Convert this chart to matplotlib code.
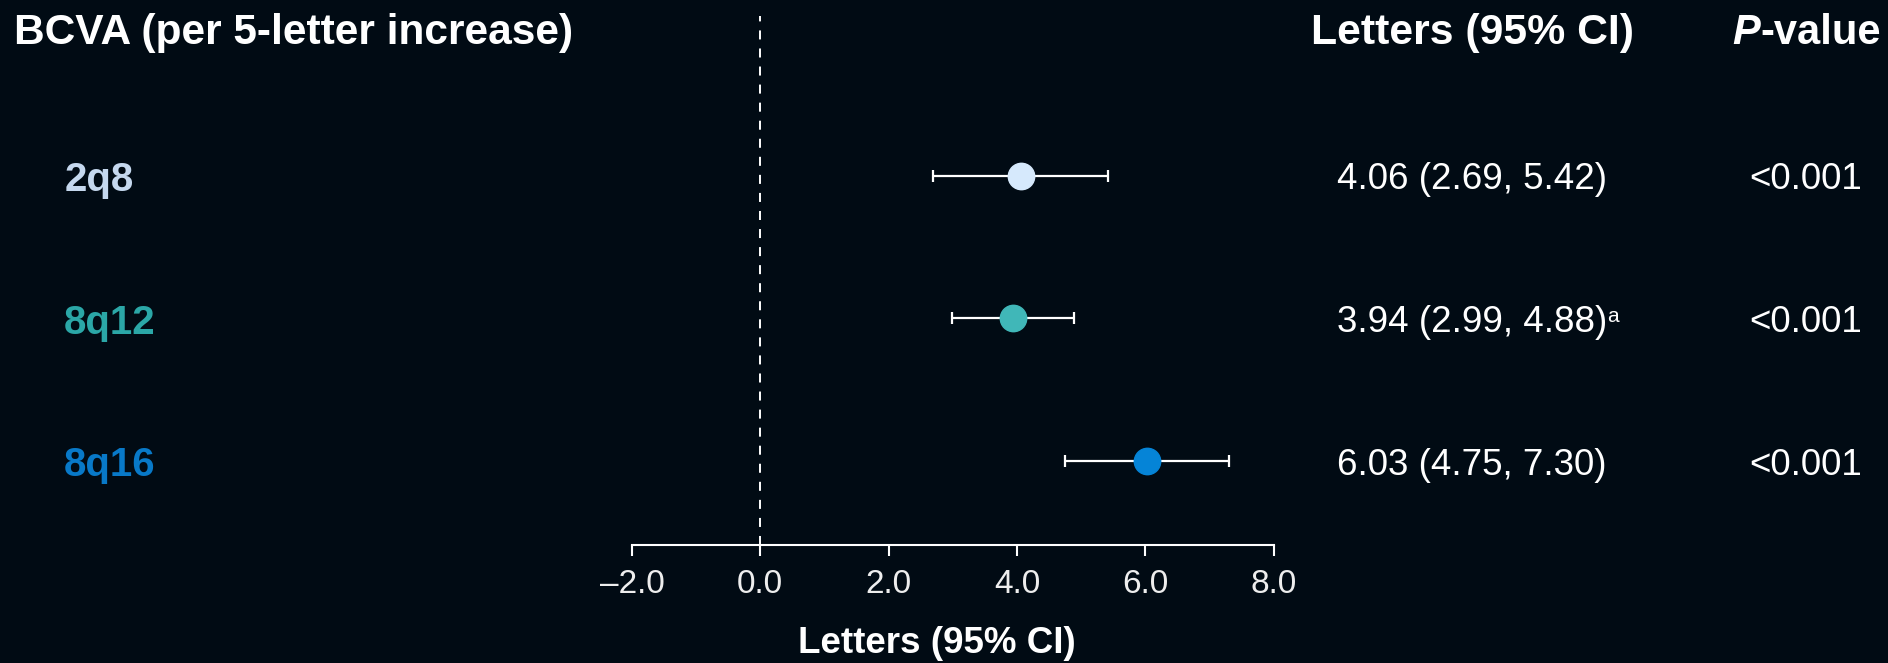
import numpy as np
import matplotlib
matplotlib.use("Agg")
import matplotlib.pyplot as plt
from matplotlib.ticker import FuncFormatter
from matplotlib.transforms import blended_transform_factory

# values
groups = ['2q8', '8q12', '8q16']
est = np.array([4.06, 3.94, 6.03])
lo = np.array([2.69, 2.99, 4.75])
hi = np.array([5.42, 4.88, 7.30])
pvals = ['<0.001', '<0.001', '<0.001']
notes = ['', 'a', '']
xticks = [-2, 0, 2, 4, 6, 8]

label_colors = ['#c5d8ee', '#2ba7a7', '#0879c8']
dot_colors = ['#d6e9fc', '#40b7b8', '#0584d7']
bg = '#010b14'

plt.rcParams['font.family'] = ['Liberation Sans', 'DejaVu Sans']
plt.rcParams['lines.scale_dashes'] = False

fig = plt.figure(figsize=(18.88, 6.63), dpi=100, facecolor=bg)
ax = fig.add_axes([0.3347, 0.178, 0.340, 0.798])
ax.set_facecolor(bg)

rows = np.arange(len(groups))
ax.set_xlim(-2, 8)
ax.set_ylim(2.59, -1.12)

ax.axvline(0, color='white', lw=1.4, dashes=(6.5, 6.5), zorder=1)
ax.errorbar(est, rows, xerr=[est - lo, hi - est], fmt='none', ecolor='white',
            elinewidth=1.6, capsize=4.5, capthick=1.6, zorder=2)
for i in rows:
    ax.plot(est[i], i, 'o', ms=19, color=dot_colors[i], mec=dot_colors[i], zorder=3)

for s in ['left', 'top', 'right']:
    ax.spines[s].set_visible(False)
ax.spines['bottom'].set_color('white')
ax.spines['bottom'].set_linewidth(1.5)
ax.set_yticks([])
ax.set_xticks(xticks)
ax.xaxis.set_major_formatter(FuncFormatter(lambda v, p: ('%.1f' % v).replace('-', '\u2013')))
ax.tick_params(axis='x', colors='white', labelcolor='#eeeeee', length=8, width=1.5,
               pad=9, labelsize=24)

ax.set_xlabel('Letters (95% CI)', color='white', fontsize=26.5, fontweight='bold')
ax.xaxis.set_label_coords(0.475, -0.186)
ax.xaxis.label.set_va('center')

# table columns beside the plot
tr = blended_transform_factory(fig.transFigure, ax.transData)
dy = 0.03
for i in rows:
    ax.text(0.034, i + dy, groups[i], transform=tr, color=label_colors[i], fontsize=29,
            fontweight='bold', ha='left', va='center')
    t = ax.text(0.7797, i + dy, '%.2f (%.2f, %.2f)' % (est[i], lo[i], hi[i]), transform=tr,
                color='white', fontsize=26.5, ha='center', va='center')
    if notes[i]:
        ax.annotate(notes[i], xy=(1, 0.93), xycoords=t, color='white', fontsize=15,
                    ha='left', va='top')
    ax.text(0.9566, i + dy, pvals[i], transform=tr, color='white', fontsize=26.5,
            ha='center', va='center')

hy = 1 - 33 / 663
fig.text(0.0074, hy, 'BCVA (per 5-letter increase)', color='white', fontsize=30.6,
         fontweight='bold', ha='left', va='center')
fig.text(0.7797, hy, 'Letters (95% CI)', color='white', fontsize=30.8,
         fontweight='bold', ha='center', va='center')
tp = fig.text(0.9175, hy, 'P', color='white', fontsize=30, fontweight='bold',
              fontstyle='italic', ha='left', va='center')
ax.annotate('-value', xy=(1, 0), xycoords=tp, color='white', fontsize=30,
            fontweight='bold', ha='left', va='bottom')

fig.savefig('out.png', dpi=100, facecolor=bg)
